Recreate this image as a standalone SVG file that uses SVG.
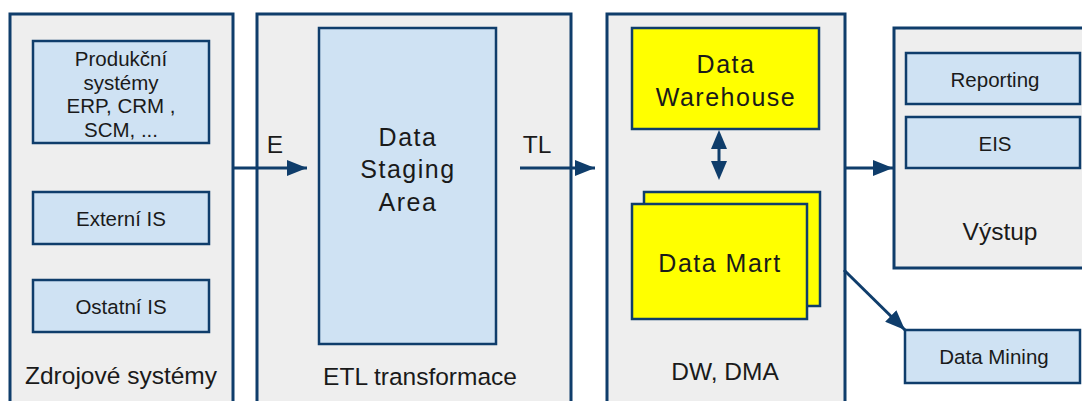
<svg xmlns="http://www.w3.org/2000/svg" width="1082" height="401" viewBox="0 0 1082 401">
<defs>
<style>
.panel{fill:#eeeeee;stroke:#0f3d6b;stroke-width:3}
.box{fill:#cfe2f3;stroke:#0f3d6b;stroke-width:2.5}
.ybox{fill:#ffff00;stroke:#0f3d6b;stroke-width:2.5}
.line{stroke:#0f3d6b;stroke-width:3;fill:none}
.head{fill:#0f3d6b}
text{font-family:"Liberation Sans",Arial,sans-serif;fill:#1a1a1a;text-anchor:middle}
.s{font-size:20.5px}
.m{font-size:24.5px}
.l{font-size:25px;letter-spacing:1.5px}
</style>
<marker id="ah" viewBox="0 0 20 16" refX="20" refY="8" markerWidth="20" markerHeight="16" markerUnits="userSpaceOnUse" orient="auto">
<path d="M0,0 L20,8 L0,16 Z" class="head"/>
</marker>
</defs>
<rect width="1082" height="401" fill="#ffffff"/>

<g id="zdrojove">
<rect class="panel" x="10" y="14" width="223" height="400"/>
<text class="m" x="121" y="384">Zdrojové systémy</text>
</g>
<g id="produkcni">
<rect class="box" x="33" y="41" width="176" height="102"/>
<text class="s" x="121" y="66">Produkční</text>
<text class="s" x="121" y="90">systémy</text>
<text class="s" x="121" y="113">ERP, CRM ,</text>
<text class="s" x="121" y="137">SCM, ...</text>
</g>
<g id="externi">
<rect class="box" x="33" y="192" width="176" height="52"/>
<text class="s" x="121" y="226">Externí IS</text>
</g>
<g id="ostatni">
<rect class="box" x="33" y="280" width="176" height="52"/>
<text class="s" x="121" y="314">Ostatní IS</text>
</g>

<g id="etl">
<rect class="panel" x="257" y="14" width="314" height="400"/>
<text class="m" x="420" y="385">ETL transformace</text>
</g>
<g id="staging">
<rect class="box" x="319" y="28" width="177" height="316"/>
<text class="l" x="408" y="146">Data</text>
<text class="l" x="408" y="178">Staging</text>
<text class="l" x="408" y="211">Area</text>
</g>

<g id="dw">
<rect class="panel" x="607" y="14" width="238" height="400"/>
<text class="m" x="725" y="380">DW, DMA</text>
</g>
<g id="warehouse">
<rect class="ybox" x="632" y="28" width="187" height="101"/>
<text class="l" x="726" y="73">Data</text>
<text class="l" x="726" y="106">Warehouse</text>
</g>
<g id="datamart">
<rect class="ybox" x="644" y="192" width="176" height="114"/>
<rect class="ybox" x="632" y="204" width="175" height="115"/>
<text class="l" x="720" y="272">Data Mart</text>
</g>

<g id="vystup">
<rect class="panel" x="894" y="28" width="200" height="240"/>
<text class="m" x="1000" y="240">Výstup</text>
</g>
<g id="reporting">
<rect class="box" x="906" y="53" width="174" height="51"/>
<text class="s" x="995" y="87">Reporting</text>
</g>
<g id="eis">
<rect class="box" x="906" y="117" width="174" height="51"/>
<text class="s" x="995" y="151">EIS</text>
</g>
<g id="datamining">
<rect class="box" x="905" y="330" width="175" height="53"/>
<text class="s" x="994" y="364">Data Mining</text>
</g>

<g id="connectors">
<line class="line" x1="233" y1="168" x2="307" y2="168" marker-end="url(#ah)"/>
<text class="m" x="275" y="153">E</text>
<line class="line" x1="520" y1="168" x2="595" y2="168" marker-end="url(#ah)"/>
<text class="m" x="537" y="153">TL</text>
<line stroke="#0f3d6b" stroke-width="3" x1="719" y1="140" x2="719" y2="170"/>
<path class="head" d="M719,130 L727,149 L711,149 Z"/>
<path class="head" d="M719,180 L727,161 L711,161 Z"/>
<line class="line" x1="845" y1="168" x2="893" y2="168" marker-end="url(#ah)"/>
<line class="line" x1="844" y1="270" x2="905" y2="330" marker-end="url(#ah)"/>
</g>
</svg>
